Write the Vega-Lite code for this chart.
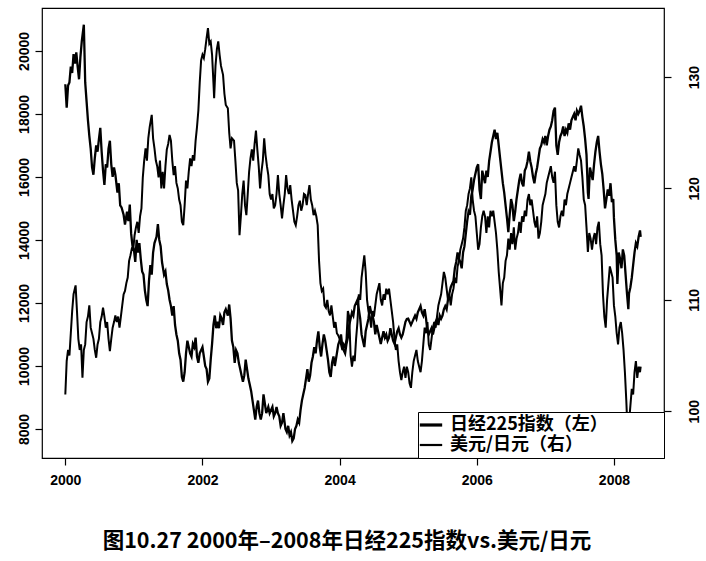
{
  "$schema": "https://vega.github.io/schema/vega-lite/v6.json",
  "width": 622,
  "height": 450,
  "autosize": "none",
  "padding": {"left": 42, "top": 8, "right": 42, "bottom": 103},
  "background": "white",
  "config": {
    "view": {"stroke": "black", "strokeWidth": 1.2},
    "axis": {
      "grid": false,
      "domain": false,
      "tickColor": "black",
      "tickSize": 7,
      "tickWidth": 1.2,
      "labelColor": "black",
      "labelFont": "Liberation Sans",
      "labelFontSize": 14,
      "labelFontWeight": "bold",
      "title": null
    }
  },
  "title": {
    "text": "图10.27 2000年–2008年日经225指数vs.美元/日元",
    "orient": "bottom",
    "anchor": "middle",
    "font": "Noto Sans CJK SC",
    "fontSize": 21.5,
    "fontWeight": "bold",
    "color": "black",
    "offset": 44,
    "dx": -6
  },
  "datasets": {
    "nk": [
      {"t":2000.00,"v":18940},{"t":2000.02,"v":18200},{"t":2000.04,"v":18900},{"t":2000.06,"v":19000},{"t":2000.08,"v":19500},{"t":2000.10,"v":19300},{"t":2000.12,"v":19900},{"t":2000.14,"v":19600},{"t":2000.16,"v":19950},{"t":2000.18,"v":19500},{"t":2000.20,"v":19100},{"t":2000.22,"v":19800},{"t":2000.24,"v":20300},{"t":2000.27,"v":20830},{"t":2000.29,"v":19000},{"t":2000.31,"v":18400},{"t":2000.33,"v":17800},{"t":2000.35,"v":17300},{"t":2000.37,"v":16900},{"t":2000.39,"v":16300},{"t":2000.41,"v":16070},{"t":2000.43,"v":16600},{"t":2000.45,"v":17000},{"t":2000.47,"v":16800},{"t":2000.49,"v":17200},{"t":2000.51,"v":17560},{"t":2000.53,"v":16800},{"t":2000.55,"v":16200},{"t":2000.57,"v":15750},{"t":2000.59,"v":16400},{"t":2000.61,"v":16300},{"t":2000.63,"v":16900},{"t":2000.65,"v":17150},{"t":2000.67,"v":16400},{"t":2000.69,"v":16000},{"t":2000.71,"v":16300},{"t":2000.73,"v":16070},{"t":2000.76,"v":15500},{"t":2000.78,"v":15800},{"t":2000.80,"v":15100},{"t":2000.82,"v":15030},{"t":2000.85,"v":14800},{"t":2000.87,"v":14490},{"t":2000.90,"v":14900},{"t":2000.92,"v":14600},{"t":2000.94,"v":15120},{"t":2000.96,"v":14200},{"t":2000.98,"v":13800},
      {"t":2001.00,"v":13700},{"t":2001.02,"v":13300},{"t":2001.04,"v":14000},{"t":2001.06,"v":13600},{"t":2001.08,"v":13900},{"t":2001.10,"v":13400},{"t":2001.12,"v":13000},{"t":2001.14,"v":12900},{"t":2001.16,"v":12400},{"t":2001.18,"v":12100},{"t":2001.20,"v":11900},{"t":2001.22,"v":12700},{"t":2001.24,"v":13200},{"t":2001.26,"v":12900},{"t":2001.28,"v":13600},{"t":2001.30,"v":13900},{"t":2001.33,"v":14100},{"t":2001.35,"v":14500},{"t":2001.37,"v":14000},{"t":2001.39,"v":13800},{"t":2001.41,"v":13300},{"t":2001.44,"v":12900},{"t":2001.46,"v":13000},{"t":2001.48,"v":12600},{"t":2001.50,"v":12400},{"t":2001.52,"v":12100},{"t":2001.54,"v":11900},{"t":2001.56,"v":11600},{"t":2001.58,"v":11900},{"t":2001.60,"v":11300},{"t":2001.62,"v":11000},{"t":2001.64,"v":10800},{"t":2001.66,"v":10400},{"t":2001.68,"v":10200},{"t":2001.70,"v":9650},{"t":2001.72,"v":9500},{"t":2001.74,"v":9800},{"t":2001.76,"v":10400},{"t":2001.78,"v":10800},{"t":2001.80,"v":10600},{"t":2001.82,"v":10400},{"t":2001.84,"v":10300},{"t":2001.86,"v":10700},{"t":2001.88,"v":10600},{"t":2001.90,"v":10900},{"t":2001.92,"v":10300},{"t":2001.94,"v":10100},{"t":2001.96,"v":10400},{"t":2001.98,"v":10500},
      {"t":2002.00,"v":10600},{"t":2002.02,"v":10300},{"t":2002.04,"v":10000},{"t":2002.06,"v":9900},{"t":2002.08,"v":9500},{"t":2002.10,"v":9600},{"t":2002.12,"v":10200},{"t":2002.14,"v":10700},{"t":2002.16,"v":11300},{"t":2002.18,"v":11600},{"t":2002.20,"v":11200},{"t":2002.22,"v":11400},{"t":2002.24,"v":11200},{"t":2002.26,"v":11600},{"t":2002.28,"v":11500},{"t":2002.30,"v":11300},{"t":2002.32,"v":11700},{"t":2002.34,"v":11800},{"t":2002.37,"v":11600},{"t":2002.39,"v":11950},{"t":2002.41,"v":11500},{"t":2002.43,"v":10800},{"t":2002.45,"v":10600},{"t":2002.47,"v":10100},{"t":2002.49,"v":10500},{"t":2002.51,"v":10400},{"t":2002.53,"v":10100},{"t":2002.55,"v":9900},{"t":2002.57,"v":9700},{"t":2002.59,"v":9500},{"t":2002.61,"v":9700},{"t":2002.63,"v":10200},{"t":2002.65,"v":9900},{"t":2002.67,"v":9600},{"t":2002.69,"v":9400},{"t":2002.71,"v":9200},{"t":2002.73,"v":8900},{"t":2002.75,"v":8600},{"t":2002.77,"v":8300},{"t":2002.79,"v":8700},{"t":2002.81,"v":8900},{"t":2002.83,"v":8500},{"t":2002.85,"v":8300},{"t":2002.87,"v":8500},{"t":2002.89,"v":9100},{"t":2002.91,"v":8800},{"t":2002.93,"v":8500},{"t":2002.96,"v":8700},{"t":2002.98,"v":8500},
      {"t":2003.00,"v":8600},{"t":2003.02,"v":8700},{"t":2003.04,"v":8400},{"t":2003.06,"v":8500},{"t":2003.08,"v":8700},{"t":2003.10,"v":8500},{"t":2003.12,"v":8400},{"t":2003.14,"v":8100},{"t":2003.16,"v":8200},{"t":2003.18,"v":8500},{"t":2003.21,"v":8000},{"t":2003.23,"v":7900},{"t":2003.25,"v":8100},{"t":2003.27,"v":7800},{"t":2003.29,"v":7900},{"t":2003.31,"v":7620},{"t":2003.33,"v":7700},{"t":2003.35,"v":8000},{"t":2003.37,"v":8100},{"t":2003.39,"v":8300},{"t":2003.41,"v":8200},{"t":2003.43,"v":8600},{"t":2003.45,"v":8900},{"t":2003.47,"v":9100},{"t":2003.49,"v":9300},{"t":2003.51,"v":9600},{"t":2003.53,"v":9900},{"t":2003.55,"v":9500},{"t":2003.57,"v":9700},{"t":2003.59,"v":10100},{"t":2003.61,"v":10300},{"t":2003.63,"v":10600},{"t":2003.65,"v":10400},{"t":2003.67,"v":10800},{"t":2003.69,"v":11100},{"t":2003.71,"v":10600},{"t":2003.73,"v":10300},{"t":2003.75,"v":10700},{"t":2003.77,"v":11000},{"t":2003.79,"v":10800},{"t":2003.81,"v":10500},{"t":2003.83,"v":10200},{"t":2003.85,"v":9800},{"t":2003.87,"v":9650},{"t":2003.89,"v":10100},{"t":2003.91,"v":10300},{"t":2003.93,"v":10000},{"t":2003.96,"v":10400},{"t":2003.98,"v":10676},
      {"t":2004.00,"v":10800},{"t":2004.02,"v":11000},{"t":2004.04,"v":10600},{"t":2004.06,"v":10500},{"t":2004.08,"v":10400},{"t":2004.10,"v":10700},{"t":2004.12,"v":10900},{"t":2004.14,"v":11300},{"t":2004.16,"v":11500},{"t":2004.18,"v":11700},{"t":2004.20,"v":11600},{"t":2004.22,"v":11900},{"t":2004.24,"v":12000},{"t":2004.26,"v":12100},{"t":2004.28,"v":11800},{"t":2004.30,"v":11500},{"t":2004.32,"v":11000},{"t":2004.34,"v":10800},{"t":2004.36,"v":10600},{"t":2004.38,"v":11100},{"t":2004.40,"v":11300},{"t":2004.42,"v":11500},{"t":2004.44,"v":11900},{"t":2004.46,"v":11700},{"t":2004.48,"v":11600},{"t":2004.50,"v":11400},{"t":2004.52,"v":11000},{"t":2004.54,"v":11300},{"t":2004.56,"v":11100},{"t":2004.58,"v":10900},{"t":2004.60,"v":10700},{"t":2004.62,"v":10900},{"t":2004.64,"v":11100},{"t":2004.66,"v":10900},{"t":2004.68,"v":11000},{"t":2004.70,"v":10800},{"t":2004.72,"v":10900},{"t":2004.74,"v":11200},{"t":2004.76,"v":11000},{"t":2004.78,"v":10800},{"t":2004.80,"v":10700},{"t":2004.82,"v":10900},{"t":2004.84,"v":11100},{"t":2004.86,"v":11200},{"t":2004.88,"v":11000},{"t":2004.90,"v":10900},{"t":2004.92,"v":11000},{"t":2004.94,"v":11200},{"t":2004.96,"v":11400},{"t":2004.98,"v":11490},
      {"t":2005.00,"v":11500},{"t":2005.02,"v":11400},{"t":2005.04,"v":11300},{"t":2005.06,"v":11400},{"t":2005.08,"v":11500},{"t":2005.10,"v":11600},{"t":2005.12,"v":11500},{"t":2005.14,"v":11700},{"t":2005.16,"v":11800},{"t":2005.18,"v":11900},{"t":2005.20,"v":11700},{"t":2005.22,"v":11600},{"t":2005.24,"v":11800},{"t":2005.26,"v":11500},{"t":2005.28,"v":11100},{"t":2005.30,"v":11000},{"t":2005.32,"v":11100},{"t":2005.34,"v":11200},{"t":2005.36,"v":11000},{"t":2005.38,"v":11200},{"t":2005.40,"v":11400},{"t":2005.42,"v":11500},{"t":2005.44,"v":11300},{"t":2005.46,"v":11600},{"t":2005.48,"v":11500},{"t":2005.50,"v":11600},{"t":2005.52,"v":11800},{"t":2005.54,"v":11900},{"t":2005.56,"v":11800},{"t":2005.58,"v":12100},{"t":2005.60,"v":12300},{"t":2005.62,"v":12500},{"t":2005.64,"v":12600},{"t":2005.66,"v":12700},{"t":2005.68,"v":13100},{"t":2005.70,"v":13300},{"t":2005.72,"v":13600},{"t":2005.74,"v":13400},{"t":2005.76,"v":13300},{"t":2005.78,"v":13100},{"t":2005.80,"v":13600},{"t":2005.82,"v":13800},{"t":2005.84,"v":14200},{"t":2005.86,"v":14600},{"t":2005.88,"v":14900},{"t":2005.90,"v":14800},{"t":2005.92,"v":15400},{"t":2005.94,"v":15600},{"t":2005.96,"v":15900},{"t":2005.98,"v":16100},
      {"t":2006.00,"v":16300},{"t":2006.02,"v":16400},{"t":2006.04,"v":15600},{"t":2006.06,"v":15300},{"t":2006.08,"v":16200},{"t":2006.10,"v":16000},{"t":2006.12,"v":15800},{"t":2006.14,"v":16200},{"t":2006.16,"v":16000},{"t":2006.18,"v":16500},{"t":2006.20,"v":16800},{"t":2006.22,"v":17100},{"t":2006.24,"v":17300},{"t":2006.26,"v":17500},{"t":2006.28,"v":17200},{"t":2006.30,"v":17400},{"t":2006.32,"v":17000},{"t":2006.34,"v":16600},{"t":2006.36,"v":16200},{"t":2006.38,"v":15800},{"t":2006.40,"v":15500},{"t":2006.42,"v":15100},{"t":2006.44,"v":14700},{"t":2006.46,"v":14250},{"t":2006.48,"v":14800},{"t":2006.50,"v":15300},{"t":2006.52,"v":15100},{"t":2006.54,"v":14600},{"t":2006.56,"v":14900},{"t":2006.58,"v":15300},{"t":2006.60,"v":15600},{"t":2006.62,"v":15900},{"t":2006.64,"v":16100},{"t":2006.66,"v":15800},{"t":2006.68,"v":15700},{"t":2006.70,"v":16200},{"t":2006.72,"v":16300},{"t":2006.74,"v":16500},{"t":2006.76,"v":16800},{"t":2006.78,"v":16500},{"t":2006.80,"v":16300},{"t":2006.82,"v":16000},{"t":2006.84,"v":15800},{"t":2006.86,"v":16100},{"t":2006.88,"v":16300},{"t":2006.90,"v":16600},{"t":2006.92,"v":16900},{"t":2006.94,"v":17000},{"t":2006.96,"v":17200},{"t":2006.98,"v":17100},
      {"t":2007.00,"v":17300},{"t":2007.02,"v":17000},{"t":2007.04,"v":17300},{"t":2007.06,"v":17500},{"t":2007.08,"v":17600},{"t":2007.10,"v":17800},{"t":2007.12,"v":18100},{"t":2007.14,"v":18200},{"t":2007.15,"v":17600},{"t":2007.16,"v":17000},{"t":2007.18,"v":16700},{"t":2007.20,"v":17100},{"t":2007.22,"v":17300},{"t":2007.24,"v":17400},{"t":2007.26,"v":17600},{"t":2007.28,"v":17300},{"t":2007.30,"v":17500},{"t":2007.32,"v":17400},{"t":2007.34,"v":17700},{"t":2007.36,"v":17500},{"t":2007.38,"v":17800},{"t":2007.40,"v":17900},{"t":2007.42,"v":18000},{"t":2007.44,"v":17800},{"t":2007.46,"v":18100},{"t":2007.48,"v":18000},{"t":2007.50,"v":18100},{"t":2007.52,"v":18260},{"t":2007.54,"v":17900},{"t":2007.56,"v":17600},{"t":2007.58,"v":17200},{"t":2007.60,"v":16700},{"t":2007.62,"v":15500},{"t":2007.63,"v":15300},{"t":2007.65,"v":16300},{"t":2007.67,"v":16100},{"t":2007.69,"v":15900},{"t":2007.71,"v":16400},{"t":2007.73,"v":16800},{"t":2007.75,"v":17100},{"t":2007.77,"v":17300},{"t":2007.79,"v":16800},{"t":2007.81,"v":16400},{"t":2007.83,"v":16100},{"t":2007.85,"v":15600},{"t":2007.87,"v":15000},{"t":2007.89,"v":15300},{"t":2007.91,"v":15600},{"t":2007.93,"v":15400},{"t":2007.95,"v":15800},{"t":2007.97,"v":15200},{"t":2007.99,"v":15300},
      {"t":2008.00,"v":14700},{"t":2008.02,"v":14000},{"t":2008.04,"v":13500},{"t":2008.05,"v":12600},{"t":2008.07,"v":13600},{"t":2008.09,"v":13400},{"t":2008.11,"v":13100},{"t":2008.13,"v":13700},{"t":2008.15,"v":13500},{"t":2008.17,"v":12900},{"t":2008.19,"v":12300},{"t":2008.21,"v":11800},{"t":2008.22,"v":12300},{"t":2008.24,"v":12500},{"t":2008.26,"v":12800},{"t":2008.28,"v":13200},{"t":2008.30,"v":13600},{"t":2008.32,"v":13900},{"t":2008.34,"v":13800},{"t":2008.36,"v":14100},{"t":2008.38,"v":14300},{"t":2008.39,"v":14100}
    ],
    "fx": [
      {"t":2000.00,"v":101.5},{"t":2000.02,"v":104.5},{"t":2000.04,"v":105.5},{"t":2000.06,"v":105.0},{"t":2000.08,"v":107.0},{"t":2000.10,"v":109.0},{"t":2000.12,"v":110.5},{"t":2000.15,"v":111.3},{"t":2000.17,"v":109.0},{"t":2000.19,"v":106.5},{"t":2000.21,"v":105.5},{"t":2000.23,"v":106.0},{"t":2000.25,"v":103.0},{"t":2000.27,"v":105.5},{"t":2000.29,"v":106.0},{"t":2000.31,"v":108.0},{"t":2000.33,"v":108.5},{"t":2000.35,"v":109.5},{"t":2000.37,"v":107.5},{"t":2000.39,"v":107.0},{"t":2000.41,"v":106.5},{"t":2000.43,"v":105.5},{"t":2000.45,"v":104.8},{"t":2000.47,"v":106.0},{"t":2000.49,"v":106.5},{"t":2000.51,"v":108.0},{"t":2000.53,"v":108.5},{"t":2000.55,"v":109.3},{"t":2000.57,"v":108.5},{"t":2000.59,"v":107.5},{"t":2000.61,"v":108.0},{"t":2000.63,"v":106.5},{"t":2000.65,"v":105.4},{"t":2000.67,"v":106.5},{"t":2000.69,"v":107.5},{"t":2000.71,"v":108.0},{"t":2000.73,"v":108.6},{"t":2000.75,"v":108.0},{"t":2000.77,"v":108.5},{"t":2000.79,"v":107.5},{"t":2000.81,"v":108.5},{"t":2000.83,"v":109.5},{"t":2000.85,"v":110.5},{"t":2000.87,"v":110.8},{"t":2000.89,"v":111.5},{"t":2000.91,"v":112.0},{"t":2000.93,"v":113.5},{"t":2000.95,"v":114.0},{"t":2000.97,"v":114.6},{"t":2000.99,"v":114.5},
      {"t":2001.01,"v":115.8},{"t":2001.03,"v":116.5},{"t":2001.05,"v":117.0},{"t":2001.07,"v":116.0},{"t":2001.09,"v":117.5},{"t":2001.11,"v":118.2},{"t":2001.13,"v":121.0},{"t":2001.15,"v":122.5},{"t":2001.17,"v":123.6},{"t":2001.19,"v":122.5},{"t":2001.21,"v":124.5},{"t":2001.23,"v":125.5},{"t":2001.26,"v":126.6},{"t":2001.28,"v":124.5},{"t":2001.30,"v":123.6},{"t":2001.32,"v":122.5},{"t":2001.34,"v":122.0},{"t":2001.36,"v":121.0},{"t":2001.38,"v":122.5},{"t":2001.40,"v":120.0},{"t":2001.42,"v":121.5},{"t":2001.44,"v":120.0},{"t":2001.46,"v":122.0},{"t":2001.48,"v":123.5},{"t":2001.50,"v":124.0},{"t":2001.52,"v":124.8},{"t":2001.54,"v":124.3},{"t":2001.56,"v":122.5},{"t":2001.58,"v":121.2},{"t":2001.60,"v":122.0},{"t":2001.62,"v":120.5},{"t":2001.64,"v":120.0},{"t":2001.66,"v":119.0},{"t":2001.68,"v":118.5},{"t":2001.70,"v":117.0},{"t":2001.72,"v":116.7},{"t":2001.74,"v":118.5},{"t":2001.76,"v":120.7},{"t":2001.78,"v":120.0},{"t":2001.80,"v":121.5},{"t":2001.82,"v":122.7},{"t":2001.84,"v":122.0},{"t":2001.86,"v":123.0},{"t":2001.88,"v":122.5},{"t":2001.90,"v":124.3},{"t":2001.92,"v":125.5},{"t":2001.94,"v":127.0},{"t":2001.96,"v":129.5},{"t":2001.98,"v":131.5},
      {"t":2002.00,"v":132.0},{"t":2002.02,"v":131.7},{"t":2002.04,"v":132.5},{"t":2002.06,"v":133.5},{"t":2002.08,"v":134.4},{"t":2002.10,"v":133.0},{"t":2002.12,"v":133.2},{"t":2002.14,"v":132.0},{"t":2002.16,"v":129.5},{"t":2002.17,"v":128.1},{"t":2002.19,"v":131.0},{"t":2002.21,"v":132.5},{"t":2002.23,"v":133.2},{"t":2002.25,"v":132.0},{"t":2002.27,"v":131.0},{"t":2002.30,"v":130.2},{"t":2002.32,"v":128.5},{"t":2002.34,"v":127.5},{"t":2002.37,"v":127.2},{"t":2002.39,"v":125.0},{"t":2002.41,"v":123.6},{"t":2002.43,"v":124.5},{"t":2002.46,"v":124.3},{"t":2002.48,"v":122.5},{"t":2002.50,"v":120.5},{"t":2002.52,"v":119.8},{"t":2002.54,"v":115.8},{"t":2002.56,"v":117.5},{"t":2002.58,"v":119.5},{"t":2002.60,"v":120.7},{"t":2002.62,"v":118.5},{"t":2002.64,"v":117.6},{"t":2002.66,"v":119.5},{"t":2002.68,"v":121.5},{"t":2002.70,"v":122.7},{"t":2002.72,"v":123.5},{"t":2002.74,"v":122.5},{"t":2002.76,"v":124.0},{"t":2002.78,"v":125.2},{"t":2002.80,"v":123.5},{"t":2002.82,"v":122.0},{"t":2002.84,"v":120.0},{"t":2002.86,"v":121.5},{"t":2002.88,"v":122.5},{"t":2002.90,"v":124.5},{"t":2002.92,"v":123.0},{"t":2002.94,"v":122.0},{"t":2002.96,"v":121.2},{"t":2002.98,"v":119.5},
      {"t":2003.00,"v":119.0},{"t":2003.02,"v":119.5},{"t":2003.04,"v":118.2},{"t":2003.06,"v":118.5},{"t":2003.08,"v":119.5},{"t":2003.10,"v":121.2},{"t":2003.12,"v":119.5},{"t":2003.14,"v":118.5},{"t":2003.16,"v":117.3},{"t":2003.18,"v":118.5},{"t":2003.20,"v":119.5},{"t":2003.22,"v":121.2},{"t":2003.24,"v":120.0},{"t":2003.26,"v":119.5},{"t":2003.28,"v":120.3},{"t":2003.30,"v":119.0},{"t":2003.32,"v":118.0},{"t":2003.34,"v":117.0},{"t":2003.36,"v":116.7},{"t":2003.38,"v":117.5},{"t":2003.40,"v":118.5},{"t":2003.42,"v":118.9},{"t":2003.44,"v":118.0},{"t":2003.46,"v":118.5},{"t":2003.48,"v":119.5},{"t":2003.50,"v":119.4},{"t":2003.52,"v":118.5},{"t":2003.54,"v":119.5},{"t":2003.56,"v":120.3},{"t":2003.58,"v":119.0},{"t":2003.60,"v":118.5},{"t":2003.62,"v":117.6},{"t":2003.64,"v":118.0},{"t":2003.66,"v":117.5},{"t":2003.68,"v":116.7},{"t":2003.70,"v":113.5},{"t":2003.72,"v":111.5},{"t":2003.74,"v":110.8},{"t":2003.76,"v":111.0},{"t":2003.78,"v":109.5},{"t":2003.80,"v":109.3},{"t":2003.82,"v":110.0},{"t":2003.84,"v":109.0},{"t":2003.86,"v":108.6},{"t":2003.88,"v":109.5},{"t":2003.90,"v":108.5},{"t":2003.92,"v":107.5},{"t":2003.94,"v":108.0},{"t":2003.96,"v":107.0},{"t":2003.98,"v":106.8},
      {"t":2004.00,"v":106.5},{"t":2004.02,"v":106.0},{"t":2004.04,"v":105.5},{"t":2004.06,"v":106.0},{"t":2004.08,"v":105.7},{"t":2004.10,"v":106.5},{"t":2004.12,"v":109.0},{"t":2004.14,"v":108.5},{"t":2004.16,"v":105.0},{"t":2004.18,"v":104.0},{"t":2004.20,"v":105.0},{"t":2004.22,"v":104.5},{"t":2004.24,"v":106.5},{"t":2004.26,"v":108.0},{"t":2004.28,"v":110.5},{"t":2004.30,"v":110.0},{"t":2004.32,"v":112.0},{"t":2004.34,"v":113.0},{"t":2004.36,"v":114.0},{"t":2004.38,"v":112.5},{"t":2004.40,"v":110.0},{"t":2004.42,"v":109.0},{"t":2004.44,"v":108.5},{"t":2004.46,"v":107.5},{"t":2004.48,"v":109.0},{"t":2004.50,"v":108.5},{"t":2004.52,"v":109.5},{"t":2004.54,"v":110.5},{"t":2004.56,"v":111.0},{"t":2004.58,"v":111.5},{"t":2004.60,"v":110.0},{"t":2004.62,"v":109.5},{"t":2004.64,"v":110.5},{"t":2004.66,"v":110.0},{"t":2004.68,"v":111.0},{"t":2004.70,"v":110.5},{"t":2004.72,"v":111.0},{"t":2004.74,"v":110.0},{"t":2004.76,"v":109.0},{"t":2004.78,"v":108.0},{"t":2004.80,"v":106.5},{"t":2004.82,"v":105.5},{"t":2004.84,"v":106.0},{"t":2004.86,"v":104.5},{"t":2004.88,"v":103.5},{"t":2004.90,"v":102.8},{"t":2004.92,"v":103.5},{"t":2004.94,"v":104.0},{"t":2004.96,"v":103.0},{"t":2004.98,"v":104.0},
      {"t":2005.00,"v":103.5},{"t":2005.02,"v":102.5},{"t":2005.04,"v":102.1},{"t":2005.06,"v":103.5},{"t":2005.08,"v":104.5},{"t":2005.10,"v":105.0},{"t":2005.12,"v":105.5},{"t":2005.14,"v":104.5},{"t":2005.16,"v":104.0},{"t":2005.18,"v":103.5},{"t":2005.20,"v":104.5},{"t":2005.22,"v":106.0},{"t":2005.24,"v":107.5},{"t":2005.26,"v":107.0},{"t":2005.28,"v":108.0},{"t":2005.30,"v":106.0},{"t":2005.32,"v":105.5},{"t":2005.34,"v":106.5},{"t":2005.36,"v":107.5},{"t":2005.38,"v":108.0},{"t":2005.40,"v":107.5},{"t":2005.42,"v":108.5},{"t":2005.44,"v":109.5},{"t":2005.46,"v":110.0},{"t":2005.48,"v":110.5},{"t":2005.50,"v":111.5},{"t":2005.52,"v":112.5},{"t":2005.54,"v":112.0},{"t":2005.56,"v":111.0},{"t":2005.58,"v":110.0},{"t":2005.60,"v":110.5},{"t":2005.62,"v":109.5},{"t":2005.64,"v":110.5},{"t":2005.66,"v":111.0},{"t":2005.68,"v":112.0},{"t":2005.70,"v":111.5},{"t":2005.72,"v":113.0},{"t":2005.74,"v":113.5},{"t":2005.76,"v":114.5},{"t":2005.78,"v":115.0},{"t":2005.80,"v":115.5},{"t":2005.82,"v":116.5},{"t":2005.84,"v":118.0},{"t":2005.86,"v":118.5},{"t":2005.88,"v":119.5},{"t":2005.90,"v":120.0},{"t":2005.92,"v":121.0},{"t":2005.94,"v":119.0},{"t":2005.96,"v":118.0},{"t":2005.98,"v":117.5},
      {"t":2006.00,"v":116.0},{"t":2006.02,"v":114.5},{"t":2006.04,"v":115.0},{"t":2006.06,"v":116.5},{"t":2006.08,"v":117.5},{"t":2006.10,"v":118.0},{"t":2006.12,"v":117.5},{"t":2006.14,"v":116.0},{"t":2006.16,"v":117.5},{"t":2006.18,"v":116.5},{"t":2006.20,"v":118.0},{"t":2006.22,"v":117.5},{"t":2006.24,"v":118.0},{"t":2006.26,"v":117.0},{"t":2006.28,"v":116.0},{"t":2006.30,"v":114.5},{"t":2006.32,"v":112.5},{"t":2006.34,"v":111.0},{"t":2006.36,"v":109.5},{"t":2006.38,"v":111.5},{"t":2006.40,"v":112.0},{"t":2006.42,"v":113.5},{"t":2006.44,"v":114.0},{"t":2006.46,"v":115.5},{"t":2006.48,"v":114.5},{"t":2006.50,"v":116.0},{"t":2006.52,"v":115.0},{"t":2006.54,"v":116.5},{"t":2006.56,"v":114.5},{"t":2006.58,"v":115.5},{"t":2006.60,"v":116.0},{"t":2006.62,"v":117.0},{"t":2006.64,"v":116.0},{"t":2006.66,"v":117.5},{"t":2006.68,"v":117.0},{"t":2006.70,"v":118.0},{"t":2006.72,"v":117.5},{"t":2006.74,"v":119.0},{"t":2006.76,"v":119.5},{"t":2006.78,"v":118.5},{"t":2006.80,"v":119.0},{"t":2006.82,"v":118.0},{"t":2006.84,"v":117.0},{"t":2006.86,"v":116.5},{"t":2006.88,"v":117.5},{"t":2006.90,"v":115.5},{"t":2006.92,"v":116.0},{"t":2006.94,"v":117.0},{"t":2006.96,"v":118.5},{"t":2006.98,"v":119.0},
      {"t":2007.00,"v":119.5},{"t":2007.02,"v":120.5},{"t":2007.04,"v":121.0},{"t":2007.06,"v":121.5},{"t":2007.08,"v":122.0},{"t":2007.10,"v":121.0},{"t":2007.12,"v":120.5},{"t":2007.14,"v":121.5},{"t":2007.16,"v":118.5},{"t":2007.18,"v":117.0},{"t":2007.20,"v":116.5},{"t":2007.22,"v":117.5},{"t":2007.24,"v":118.0},{"t":2007.26,"v":117.5},{"t":2007.28,"v":119.0},{"t":2007.30,"v":118.5},{"t":2007.32,"v":119.5},{"t":2007.34,"v":120.0},{"t":2007.36,"v":120.5},{"t":2007.38,"v":121.0},{"t":2007.40,"v":121.5},{"t":2007.42,"v":122.0},{"t":2007.44,"v":121.5},{"t":2007.46,"v":122.5},{"t":2007.48,"v":123.6},{"t":2007.50,"v":123.0},{"t":2007.52,"v":122.5},{"t":2007.54,"v":121.0},{"t":2007.56,"v":119.0},{"t":2007.58,"v":118.5},{"t":2007.60,"v":116.5},{"t":2007.62,"v":114.3},{"t":2007.64,"v":116.0},{"t":2007.66,"v":115.5},{"t":2007.68,"v":114.5},{"t":2007.70,"v":115.5},{"t":2007.72,"v":116.0},{"t":2007.74,"v":115.0},{"t":2007.76,"v":116.5},{"t":2007.78,"v":117.0},{"t":2007.80,"v":115.0},{"t":2007.82,"v":114.0},{"t":2007.84,"v":110.5},{"t":2007.86,"v":108.5},{"t":2007.88,"v":107.5},{"t":2007.90,"v":110.0},{"t":2007.92,"v":111.5},{"t":2007.94,"v":113.0},{"t":2007.96,"v":112.5},{"t":2007.98,"v":112.0},
      {"t":2008.00,"v":109.5},{"t":2008.02,"v":108.5},{"t":2008.04,"v":107.0},{"t":2008.06,"v":106.0},{"t":2008.08,"v":107.5},{"t":2008.10,"v":108.0},{"t":2008.12,"v":107.0},{"t":2008.14,"v":105.5},{"t":2008.16,"v":103.5},{"t":2008.18,"v":101.0},{"t":2008.20,"v":98.0},{"t":2008.21,"v":97.3},{"t":2008.22,"v":99.0},{"t":2008.24,"v":100.5},{"t":2008.26,"v":102.0},{"t":2008.28,"v":101.5},{"t":2008.30,"v":103.5},{"t":2008.32,"v":104.5},{"t":2008.34,"v":103.0},{"t":2008.36,"v":104.0},{"t":2008.38,"v":103.5},{"t":2008.39,"v":104.0}
    ]
  },
  "layer": [
    {
      "data": {"name": "nk"},
      "mark": {"type": "line", "strokeWidth": 2.3},
      "encoding": {
        "x": {
          "field": "t",
          "type": "quantitative",
          "scale": {"domain": [1999.66, 2008.73], "nice": false, "zero": false},
          "axis": {"values": [2000, 2002, 2004, 2006, 2008], "format": "d", "labelPadding": 8}
        },
        "y": {
          "field": "v",
          "type": "quantitative",
          "scale": {"domain": [7078, 21362], "nice": false, "zero": false},
          "axis": {
            "orient": "left",
            "values": [8000, 10000, 12000, 14000, 16000, 18000, 20000],
            "format": "d",
            "labelAngle": -90,
            "labelAlign": "center",
            "labelBaseline": "bottom",
            "labelPadding": 4
          }
        },
        "color": {
          "datum": "日经225指数（左）",
          "scale": {"domain": ["日经225指数（左）", "美元/日元（右）"], "range": ["black", "black"]},
          "legend": {
            "title": null,
            "orient": "bottom-right",
            "offset": 0,
            "fillColor": "white",
            "strokeColor": "black",
            "padding": 4,
            "rowPadding": 2,
            "symbolType": "stroke",
            "symbolSize": 500,
            "symbolStrokeWidth": 2,
            "labelFont": "Noto Sans CJK SC",
            "labelFontSize": 18,
            "labelFontWeight": "bold",
            "labelColor": "black",
            "labelOffset": 10,
            "labelLimit": 400,
            "labelExpr": "datum.label + '\u2800\u2800\u2800\u2800'",
            "encode": {
              "symbols": {"update": {"strokeWidth": {"signal": "datum.value === '日经225指数（左）' ? 3.2 : 2.2"}}}
            }
          }
        }
      }
    },
    {
      "data": {"name": "fx"},
      "mark": {"type": "line", "strokeWidth": 2},
      "encoding": {
        "x": {"field": "t", "type": "quantitative"},
        "y": {
          "field": "v",
          "type": "quantitative",
          "scale": {"domain": [95.8, 136.2], "nice": false, "zero": false},
          "axis": {
            "orient": "right",
            "values": [100, 110, 120, 130],
            "format": "d",
            "labelAngle": -90,
            "labelAlign": "center",
            "labelBaseline": "top",
            "labelPadding": 16
          }
        },
        "color": {"datum": "美元/日元（右）"}
      }
    }
  ],
  "resolve": {"scale": {"y": "independent"}}
}
